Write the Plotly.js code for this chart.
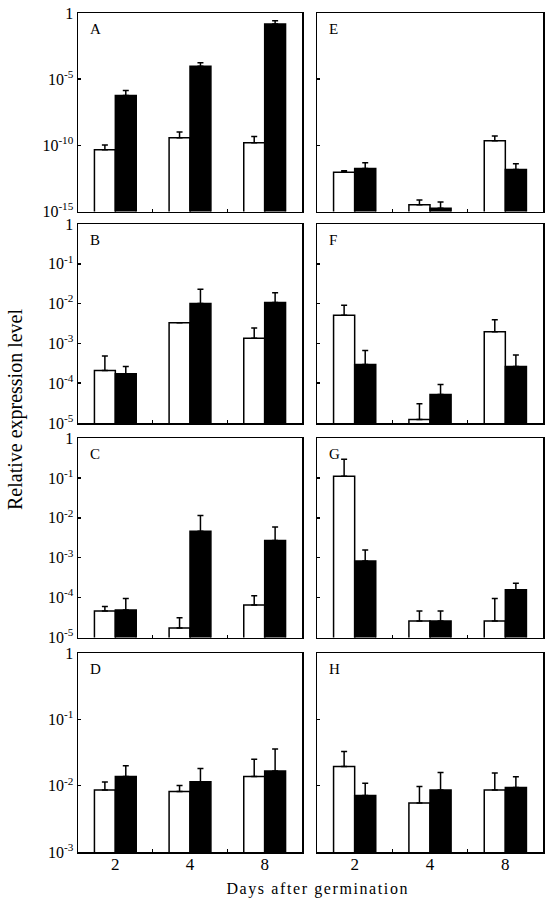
<!DOCTYPE html>
<html>
<head>
<meta charset="utf-8">
<script src="https://cdn.plot.ly/plotly-3.0.1.min.js"></script>
<style>
html,body{margin:0;padding:0;background:#fff;}
#chart{width:549px;height:899px;}
</style>
</head>
<body>
<div id="chart"></div>
<script>
const days = ['2', '4', '8'];
const panelLetters = ['A', 'B', 'C', 'D', 'E', 'F', 'G', 'H'];

// white = open bars, black = filled bars; *_err = upper error bar size
const A_white = [4.7e-11, 3.8e-10, 1.6e-10];
const A_white_err = [6.0e-11, 6.4e-10, 3.0e-10];
const A_black = [5.75e-7, 9.5e-5, 0.148];
const A_black_err = [8.0e-7, 7.9e-5, 0.115];

const B_white = [2.1e-4, 3.3e-3, 1.35e-3];
const B_white_err = [2.7e-4, 0, 1.1e-3];
const B_black = [1.74e-4, 1.0e-2, 1.07e-2];
const B_black_err = [8.9e-5, 1.29e-2, 7.9e-3];

const C_white = [4.6e-5, 1.74e-5, 6.5e-5];
const C_white_err = [1.4e-5, 1.4e-5, 4.7e-5];
const C_black = [4.9e-5, 4.6e-3, 2.7e-3];
const C_black_err = [4.6e-5, 6.9e-3, 3.2e-3];

const D_white = [8.6e-3, 8.2e-3, 1.37e-2];
const D_white_err = [2.8e-3, 1.9e-3, 1.13e-2];
const D_black = [1.37e-2, 1.15e-2, 1.67e-2];
const D_black_err = [6.3e-3, 6.6e-3, 1.9e-2];

const E_white = [9.3e-13, 3.3e-15, 2.24e-10];
const E_white_err = [2.7e-13, 4.1e-15, 2.8e-10];
const E_black = [1.78e-12, 1.74e-15, 1.48e-12];
const E_black_err = [3.0e-12, 3.4e-15, 2.5e-12];

const F_white = [5.1e-3, 1.23e-5, 1.95e-3];
const F_white_err = [4.0e-3, 1.8e-5, 2.0e-3];
const F_black = [2.95e-4, 5.2e-5, 2.63e-4];
const F_black_err = [3.65e-4, 4.1e-5, 2.5e-4];

const G_white = [0.11, 2.6e-5, 2.6e-5];
const G_white_err = [0.185, 2.0e-5, 6.9e-5];
const G_black = [8.3e-4, 2.6e-5, 1.58e-4];
const G_black_err = [7.2e-4, 2.0e-5, 7.0e-5];

const H_white = [1.94e-2, 5.5e-3, 8.6e-3];
const H_white_err = [1.33e-2, 4.2e-3, 6.9e-3];
const H_black = [7.1e-3, 8.6e-3, 9.4e-3];
const H_black_err = [3.8e-3, 7.2e-3, 4.2e-3];

const ticks15 = [1e-15, 1e-10, 1e-5, 1];
const ticks15Text = ['10<sup>-15</sup>', '10<sup>-10</sup>', '10<sup>-5</sup>', '1'];
const ticks5 = [1e-5, 1e-4, 1e-3, 1e-2, 1e-1, 1];
const ticks5Text = ['10<sup>-5</sup>', '10<sup>-4</sup>', '10<sup>-3</sup>', '10<sup>-2</sup>', '10<sup>-1</sup>', '1'];
const ticks3 = [1e-3, 1e-2, 1e-1, 1];
const ticks3Text = ['10<sup>-3</sup>', '10<sup>-2</sup>', '10<sup>-1</sup>', '1'];

const panelData = {
  A: [A_white, A_white_err, A_black, A_black_err],
  B: [B_white, B_white_err, B_black, B_black_err],
  C: [C_white, C_white_err, C_black, C_black_err],
  D: [D_white, D_white_err, D_black, D_black_err],
  E: [E_white, E_white_err, E_black, E_black_err],
  F: [F_white, F_white_err, F_black, F_black_err],
  G: [G_white, G_white_err, G_black, G_black_err],
  H: [H_white, H_white_err, H_black, H_black_err]
};

const W = 549, Hh = 899;
const colX = [[78, 302], [317, 543]];
const rowY = [[13, 211.5], [224, 423], [438, 637.5], [653, 852]];
const serif = 'Liberation Serif, Times New Roman, serif';

const traces = [];
const layout = {
  width: W, height: Hh,
  margin: {l: 0, r: 0, t: 0, b: 0},
  paper_bgcolor: '#fff', plot_bgcolor: '#fff',
  showlegend: false,
  barmode: 'group', bargap: 0.44, bargroupgap: 0,
  font: {family: serif, size: 15, color: '#000'},
  annotations: []
};

panelLetters.forEach((L, i) => {
  const col = i < 4 ? 0 : 1;
  const row = i % 4;
  const n = i + 1;
  const xa = 'x' + (n === 1 ? '' : n), ya = 'y' + (n === 1 ? '' : n);
  const d = panelData[L];
  const errStyle = (arr) => ({type: 'data', symmetric: false, array: arr, arrayminus: arr.map(() => 0), color: '#000', thickness: 1.5, width: 3});
  traces.push({type: 'bar', x: days, y: d[0], xaxis: xa, yaxis: ya,
    marker: {color: '#fff', line: {color: '#000', width: 1.5}}, error_y: errStyle(d[1])});
  traces.push({type: 'bar', x: days, y: d[2], xaxis: xa, yaxis: ya,
    marker: {color: '#000', line: {color: '#000', width: 1.5}}, error_y: errStyle(d[3])});

  let tv, tt, rng;
  if (L === 'A' || L === 'E') { tv = ticks15; tt = ticks15Text; rng = [-15, 0]; }
  else if (L === 'D' || L === 'H') { tv = ticks3; tt = ticks3Text; rng = [-3, 0]; }
  else { tv = ticks5; tt = ticks5Text; rng = [-5, 0]; }

  const xKey = 'xaxis' + (n === 1 ? '' : n), yKey = 'yaxis' + (n === 1 ? '' : n);
  layout[xKey] = {
    domain: [colX[col][0] / W, colX[col][1] / W],
    anchor: ya, type: 'category', categoryorder: 'array', categoryarray: days,
    range: [-0.5, 2.5],
    showline: true, mirror: true, linecolor: '#000', linewidth: 1.5,
    ticks: 'inside', tickson: 'boundaries', ticklen: 3, tickwidth: 1.5, tickcolor: '#000',
    showticklabels: row === 3, showgrid: false, zeroline: false,
    ticklabelstandoff: -4,
    tickfont: {family: serif, size: 17}
  };
  layout[yKey] = {
    domain: [(Hh - rowY[row][1]) / Hh, (Hh - rowY[row][0]) / Hh],
    anchor: xa, type: 'log', range: rng,
    tickvals: tv, ticktext: tt,
    showline: true, mirror: true, linecolor: '#000', linewidth: 1.5,
    ticks: 'inside', ticklen: 3, tickwidth: 1.5, tickcolor: '#000',
    showticklabels: col === 0, showgrid: false, zeroline: false,
    tickfont: {family: serif, size: 16}
  };
  layout.annotations.push({
    text: L, xref: 'paper', yref: 'paper',
    x: (colX[col][0] + 10) / W, y: (Hh - rowY[row][0] - 16) / Hh,
    xanchor: 'left', yanchor: 'middle', showarrow: false,
    font: {family: serif, size: 15, color: '#000'}
  });
});

layout.annotations.push({
  text: 'Relative expression level', xref: 'paper', yref: 'paper',
  x: 15 / W, y: (Hh - 410) / Hh, textangle: -90, showarrow: false,
  xanchor: 'center', yanchor: 'middle',
  font: {family: serif, size: 20, color: '#000'}
});
layout.annotations.push({
  text: 'Days after germination', xref: 'paper', yref: 'paper',
  x: 318 / W, y: (Hh - 889) / Hh, showarrow: false,
  xanchor: 'center', yanchor: 'middle',
  font: {family: serif, size: 16, color: '#000'}
});

Plotly.newPlot('chart', traces, layout, {displayModeBar: false, staticPlot: true}).then(() => {
  document.querySelectorAll('.annotation-text').forEach(t => {
    if (t.textContent === 'Days after germination') t.style.letterSpacing = '1.6px';
  });
});
</script>
</body>
</html>
